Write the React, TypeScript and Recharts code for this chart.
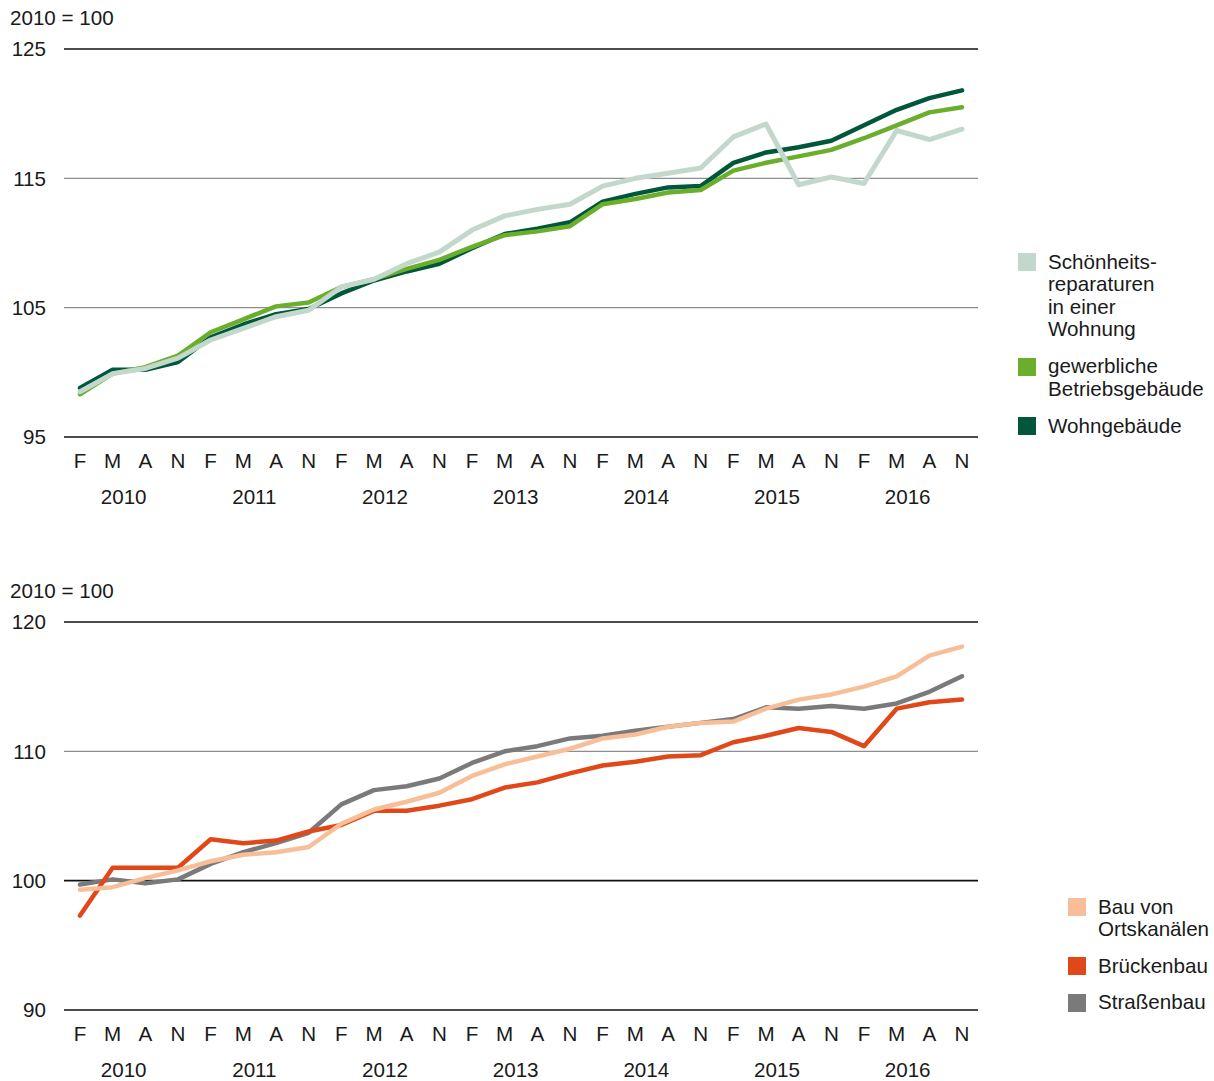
import { LineChart, Line, XAxis, YAxis, ReferenceLine } from 'recharts';

const months = ['F', 'M', 'A', 'N'];
const years = ['2010', '2011', '2012', '2013', '2014', '2015', '2016'];

// Hochbau
const schoenheits = [
  98.5, 99.9, 100.3, 101.1,
  102.5, 103.4, 104.3, 104.8,
  106.6, 107.2, 108.4, 109.3,
  111.0, 112.1, 112.6, 113.0,
  114.4, 115.0, 115.4, 115.8,
  118.2, 119.2, 114.5, 115.1,
  114.6, 118.7, 118.0, 118.8,
];
const gewerbliche = [
  98.3, 99.9, 100.4, 101.3,
  103.1, 104.1, 105.1, 105.4,
  106.6, 107.2, 108.0, 108.7,
  109.7, 110.6, 110.9, 111.3,
  113.0, 113.4, 113.9, 114.1,
  115.6, 116.2, 116.7, 117.2,
  118.1, 119.1, 120.1, 120.5,
];
const wohngebaeude = [
  98.8, 100.2, 100.2, 100.8,
  102.7, 103.7, 104.5, 104.9,
  106.1, 107.1, 107.8, 108.4,
  109.6, 110.7, 111.1, 111.6,
  113.2, 113.8, 114.3, 114.4,
  116.2, 117.0, 117.4, 117.9,
  119.1, 120.3, 121.2, 121.8,
];

// Tiefbau
const ortskanaele = [
  99.3, 99.5, 100.2, 100.8,
  101.5, 102.0, 102.2, 102.6,
  104.4, 105.5, 106.1, 106.8,
  108.1, 109.0, 109.6, 110.2,
  111.0, 111.3, 111.9, 112.2,
  112.3, 113.3, 114.0, 114.4,
  115.0, 115.8, 117.4, 118.1,
];
const brueckenbau = [
  97.3, 101.0, 101.0, 101.0,
  103.2, 102.9, 103.1, 103.8,
  104.3, 105.4, 105.4, 105.8,
  106.3, 107.2, 107.6, 108.3,
  108.9, 109.2, 109.6, 109.7,
  110.7, 111.2, 111.8, 111.5,
  110.4, 113.3, 113.8, 114.0,
];
const strassenbau = [
  99.7, 100.1, 99.8, 100.1,
  101.3, 102.2, 102.9, 103.7,
  105.9, 107.0, 107.3, 107.9,
  109.1, 110.0, 110.4, 111.0,
  111.2, 111.6, 111.9, 112.2,
  112.5, 113.4, 113.3, 113.5,
  113.3, 113.7, 114.6, 115.8,
];

const topTicks = [95, 105, 115, 125];
const bottomTicks = [90, 100, 110, 120];

const FONT = '"Liberation Sans", Arial, Helvetica, sans-serif';
const FS = 20.6;
const TEXT = '#1a1a1a';
const BLACK = '#111';
const GREY = '#8e8e8e';

const keys = years.flatMap((yr) => months.map((m) => `${m}-${yr}`));

const topData = keys.map((k, i) => ({
  k,
  schoenheits: schoenheits[i],
  gewerbliche: gewerbliche[i],
  wohn: wohngebaeude[i],
}));

const bottomData = keys.map((k, i) => ({
  k,
  ortskanal: ortskanaele[i],
  bruecken: brueckenbau[i],
  strasse: strassenbau[i],
}));

const topLegend = [
  { color: '#c3d8cc', lines: ['Schönheits-', 'reparaturen', 'in einer', 'Wohnung'] },
  { color: '#6aae2c', lines: ['gewerbliche', 'Betriebsgebäude'] },
  { color: '#00573b', lines: ['Wohngebäude'] },
];

const bottomLegend = [
  { color: '#f8be98', lines: ['Bau von', 'Ortskanälen'] },
  { color: '#e0481a', lines: ['Brückenbau'] },
  { color: '#7a7a7a', lines: ['Straßenbau'] },
];

const MonthTick = (props: any) => {
  const { x, y, payload } = props;
  const [m, yr] = String(payload.value).split('-');
  return (
    <g>
      <text x={x} y={y + 24} dy="0.36em" textAnchor="middle" fontSize={FS} fontFamily={FONT} fill={TEXT}>
        {m}
      </text>
      {m === 'M' && (
        <text x={x + 11} y={y + 60} dy="0.36em" textAnchor="middle" fontSize={FS} fontFamily={FONT} fill={TEXT}>
          {yr}
        </text>
      )}
    </g>
  );
};

const LegendBox = ({
  items,
  left,
  top,
  gap,
}: {
  items: { color: string; lines: string[] }[];
  left: number;
  top: number;
  gap: number;
}) => (
  <div
    style={{
      position: 'absolute',
      left,
      top,
      fontFamily: FONT,
      fontSize: FS,
      color: TEXT,
      lineHeight: '22.5px',
    }}
  >
    {items.map((it, i) => (
      <div key={i} style={{ position: 'relative', paddingLeft: 30, marginBottom: gap }}>
        <div
          style={{
            position: 'absolute',
            left: 0,
            top: 2.5,
            width: 18,
            height: 18,
            background: it.color,
          }}
        />
        {it.lines.map((l, j) => (
          <div key={j} style={{ whiteSpace: 'nowrap' }}>{l}</div>
        ))}
      </div>
    ))}
  </div>
);

const axisProps = {
  dataKey: 'k',
  interval: 0 as const,
  axisLine: false,
  tickLine: false,
  tickSize: 0,
  tickMargin: 0,
  padding: { left: 16, right: 16 },
  tick: <MonthTick />,
};

const yTick = { fontSize: FS, fontFamily: FONT, fill: TEXT };

const unitStyle = {
  position: 'absolute' as const,
  left: 10,
  fontFamily: FONT,
  fontSize: FS,
  color: TEXT,
  lineHeight: '20px',
};

export default function App() {
  return (
    <div style={{ position: 'absolute', left: 0, top: 0, width: 1214, height: 1081, background: '#fff' }}>
      <div style={{ ...unitStyle, top: 8 }}>2010 = 100</div>
      <div style={{ position: 'absolute', left: 0, top: 0 }}>
        <LineChart width={1000} height={520} data={topData} margin={{ top: 49, right: 22, bottom: 0, left: 0 }}>
          <XAxis {...axisProps} height={83} />
          <YAxis
            domain={[95, 125]}
            ticks={topTicks}
            width={64}
            axisLine={false}
            tickLine={false}
            tickSize={0}
            tickMargin={18}
            tick={yTick}
          />
          {topTicks.map((t) => (
            <ReferenceLine
              key={t}
              y={t}
              stroke={t === 95 || t === 125 ? BLACK : GREY}
              strokeWidth={t === 95 || t === 125 ? 1.6 : 1.2}
            />
          ))}
          <Line dataKey="wohn" stroke="#00573b" strokeWidth={4.5} dot={false} isAnimationActive={false} strokeLinejoin="round" strokeLinecap="round" />
          <Line dataKey="gewerbliche" stroke="#6aae2c" strokeWidth={4.5} dot={false} isAnimationActive={false} strokeLinejoin="round" strokeLinecap="round" />
          <Line dataKey="schoenheits" stroke="#c3d8cc" strokeWidth={5} dot={false} isAnimationActive={false} strokeLinejoin="round" strokeLinecap="round" />
        </LineChart>
      </div>
      <LegendBox items={topLegend} left={1018} top={250.5} gap={14.5} />

      <div style={{ ...unitStyle, top: 581 }}>2010 = 100</div>
      <div style={{ position: 'absolute', left: 0, top: 573 }}>
        <LineChart width={1000} height={508} data={bottomData} margin={{ top: 49, right: 22, bottom: 0, left: 0 }}>
          <XAxis {...axisProps} height={71} />
          <YAxis
            domain={[90, 120]}
            ticks={bottomTicks}
            width={64}
            axisLine={false}
            tickLine={false}
            tickSize={0}
            tickMargin={18}
            tick={yTick}
          />
          {bottomTicks.map((t) => (
            <ReferenceLine
              key={t}
              y={t}
              stroke={t === 110 ? GREY : BLACK}
              strokeWidth={t === 110 ? 1.2 : 1.6}
            />
          ))}
          <Line dataKey="strasse" stroke="#7a7a7a" strokeWidth={4.5} dot={false} isAnimationActive={false} strokeLinejoin="round" strokeLinecap="round" />
          <Line dataKey="bruecken" stroke="#e0481a" strokeWidth={4.5} dot={false} isAnimationActive={false} strokeLinejoin="round" strokeLinecap="round" />
          <Line dataKey="ortskanal" stroke="#f8be98" strokeWidth={4.5} dot={false} isAnimationActive={false} strokeLinejoin="round" strokeLinecap="round" />
        </LineChart>
      </div>
      <LegendBox items={bottomLegend} left={1068} top={895.5} gap={14} />
    </div>
  );
}
